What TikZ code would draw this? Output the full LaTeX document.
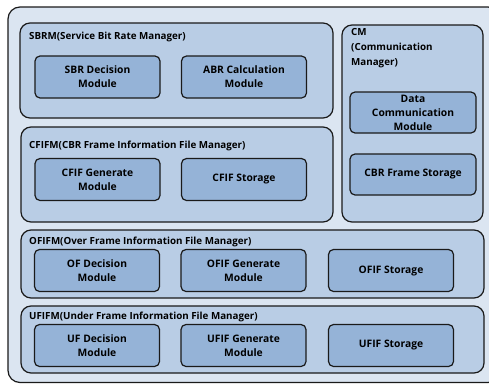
\documentclass[tikz,border=0pt]{standalone}
\usepackage{fontspec}
\setmainfont{Open Sans}
\usepackage{tikz}
\usetikzlibrary{positioning}
\definecolor{smback}{HTML}{DBE5F1}
\definecolor{smgroup}{HTML}{B9CDE5}
\definecolor{smmod}{HTML}{95B3D7}
\definecolor{smline}{HTML}{1A1A1A}

\begin{document}
\begin{tikzpicture}[
  x=1pt, y=-1pt,
  font=\fontsize{10.3}{14}\selectfont\bfseries,
  group/.style={draw=smline, line width=1.2pt, rounded corners=10pt, fill=smgroup, inner sep=0pt},
  module/.style={draw=smline, line width=1.2pt, rounded corners=5pt, fill=smmod, minimum width=125pt, minimum height=42pt, inner sep=2pt, align=center},
  title/.style={anchor=west, inner sep=0pt, align=left, font=\fontsize{9.8}{15}\selectfont\bfseries},
]
\useasboundingbox (0,0) rectangle (489,383);
% outer frame
\draw[draw=smline, line width=1.2pt, rounded corners=12pt, fill=smback] (8,7) rectangle (500,382.5);

% manager groups
\node[group, minimum width=313pt, minimum height=95pt] (sbrm) at (176.5,70.5) {};
\node[group, minimum width=312pt, minimum height=95pt] (cfifm) at (177,174.5) {};
\node[group, minimum width=141pt, minimum height=197pt] (cm) at (412.5,123.5) {};
\node[group, minimum width=463pt, minimum height=68pt] (ofifm) at (252.5,264) {};
\node[group, minimum width=463pt, minimum height=67pt] (ufifm) at (252.5,339.5) {};

\node[title] (sbrmt) at (29,37) {SBRM(Service Bit Rate Manager)};
\node[title] (cfifmt) at (29,146) {CFIFM(CBR Frame Information File Manager)};
\node[title, anchor=north west] (cmt) at (351,28) {CM\\(Communication\\Manager)};
\node[title] (ofifmt) at (29,242) {OFIFM(Over Frame Information File Manager)};
\node[title] (ufifmt) at (29,317) {UFIFM(Under Frame Information File Manager)};

% modules
\node[module] (sbrdec) at (97.5,77) {SBR Decision\\Module};
\node[module] (abrcalc) at (244,77) {ABR Calculation\\Module};
\node[module] (cfifgen) at (97.5,179.5) {CFIF Generate\\Module};
\node[module] (cfifsto) at (244,179.5) {CFIF Storage};
\node[module, minimum width=126pt, minimum height=41pt] (datacom) at (413,112.5) {Data\\Communication\\Module};
\node[module, minimum width=126pt, minimum height=41pt] (cbrsto) at (413,174.5) {CBR Frame Storage};
\node[module] (ofdec) at (97,270.5) {OF Decision\\Module};
\node[module] (ofifgen) at (243.5,270.5) {OFIF Generate\\Module};
\node[module] (ofifsto) at (391,270.5) {OFIF Storage};
\node[module] (ufdec) at (97,345.5) {UF Decision\\Module};
\node[module] (ufifgen) at (243.5,345.5) {UFIF Generate\\Module};
\node[module] (ufifsto) at (391,345.5) {UFIF Storage};
\end{tikzpicture}
\end{document}
